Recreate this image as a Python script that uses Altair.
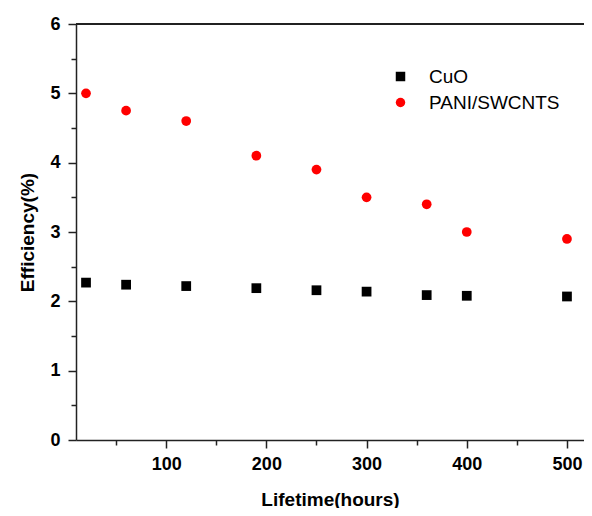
import altair as alt
import pandas as pd

# ---- data ----
lifetime = [20, 60, 120, 190, 250, 300, 360, 400, 500]
cuo = [2.27, 2.24, 2.22, 2.19, 2.16, 2.14, 2.09, 2.08, 2.07]
pani = [5.0, 4.75, 4.6, 4.1, 3.9, 3.5, 3.4, 3.0, 2.9]
series = ["CuO", "PANI/SWCNTS"]
series_colors = ["#000000", "#ff0000"]
series_shapes = ["square", "circle"]
x_ticks = [50, 100, 150, 200, 250, 300, 350, 400, 450, 500]
y_ticks = [0, 0.5, 1, 1.5, 2, 2.5, 3, 3.5, 4, 4.5, 5, 5.5, 6]

rows = []
for name, vals in zip(series, [cuo, pani]):
    for t, v in zip(lifetime, vals):
        rows.append({"Lifetime": t, "Efficiency": v, "Series": name})
df = pd.DataFrame(rows)

FONT = "Liberation Sans"
W, H = 508, 416

legend = alt.Legend(
    title=None, orient="none", legendX=315, legendY=43,
    labelFont=FONT, labelFontSize=19, labelColor="#000000",
    symbolSize=90, rowPadding=6, labelOffset=19,
    symbolStrokeWidth=0,
)

points = alt.Chart(df).mark_point(filled=True, size=95, opacity=1).encode(
    x=alt.X(
        "Lifetime:Q",
        scale=alt.Scale(domain=[10, 517], nice=False, zero=False),
        axis=alt.Axis(
            title="Lifetime(hours)", values=x_ticks,
            labelExpr="datum.value % 100 ? '' : format(datum.value, 'd')",
            tickSize={"condition": {"test": "datum.value % 100 != 0", "value": 5}, "value": 8},
            labelPadding=7, titlePadding=17, labelOverlap=False,
        ),
    ),
    y=alt.Y(
        "Efficiency:Q",
        scale=alt.Scale(domain=[0, 6], nice=False, zero=False),
        axis=alt.Axis(
            title="Efficiency(%)", values=y_ticks,
            labelExpr="datum.value % 1 ? '' : format(datum.value, 'd')",
            tickSize={"condition": {"test": "datum.value % 1 != 0", "value": 5}, "value": 8},
            labelPadding=8, titlePadding=12, labelOverlap=False,
        ),
    ),
    color=alt.Color("Series:N", scale=alt.Scale(domain=series, range=series_colors), legend=legend),
    shape=alt.Shape("Series:N", scale=alt.Scale(domain=series, range=series_shapes), legend=legend),
)

top_line = alt.Chart(df).mark_rule(color="#222222", strokeWidth=1.5).encode(
    x=alt.value(0), x2=alt.value(W), y=alt.value(0)
)

chart = alt.layer(points, top_line).properties(
    width=W, height=H,
    autosize=alt.AutoSizeParams(type="none"),
    padding={"left": 68, "top": 16, "right": 0, "bottom": 68},
).configure_view(stroke=None).configure_axis(
    domainColor="#222222", domainWidth=1.5,
    tickColor="#222222", tickWidth=1.5,
    grid=False,
    labelFont=FONT, labelFontSize=18, labelFontWeight="bold", labelColor="#000000",
    titleFont=FONT, titleFontSize=19, titleFontWeight="bold", titleColor="#000000",
)

chart.save("out.html", embed_options={"renderer": "svg", "actions": False})
